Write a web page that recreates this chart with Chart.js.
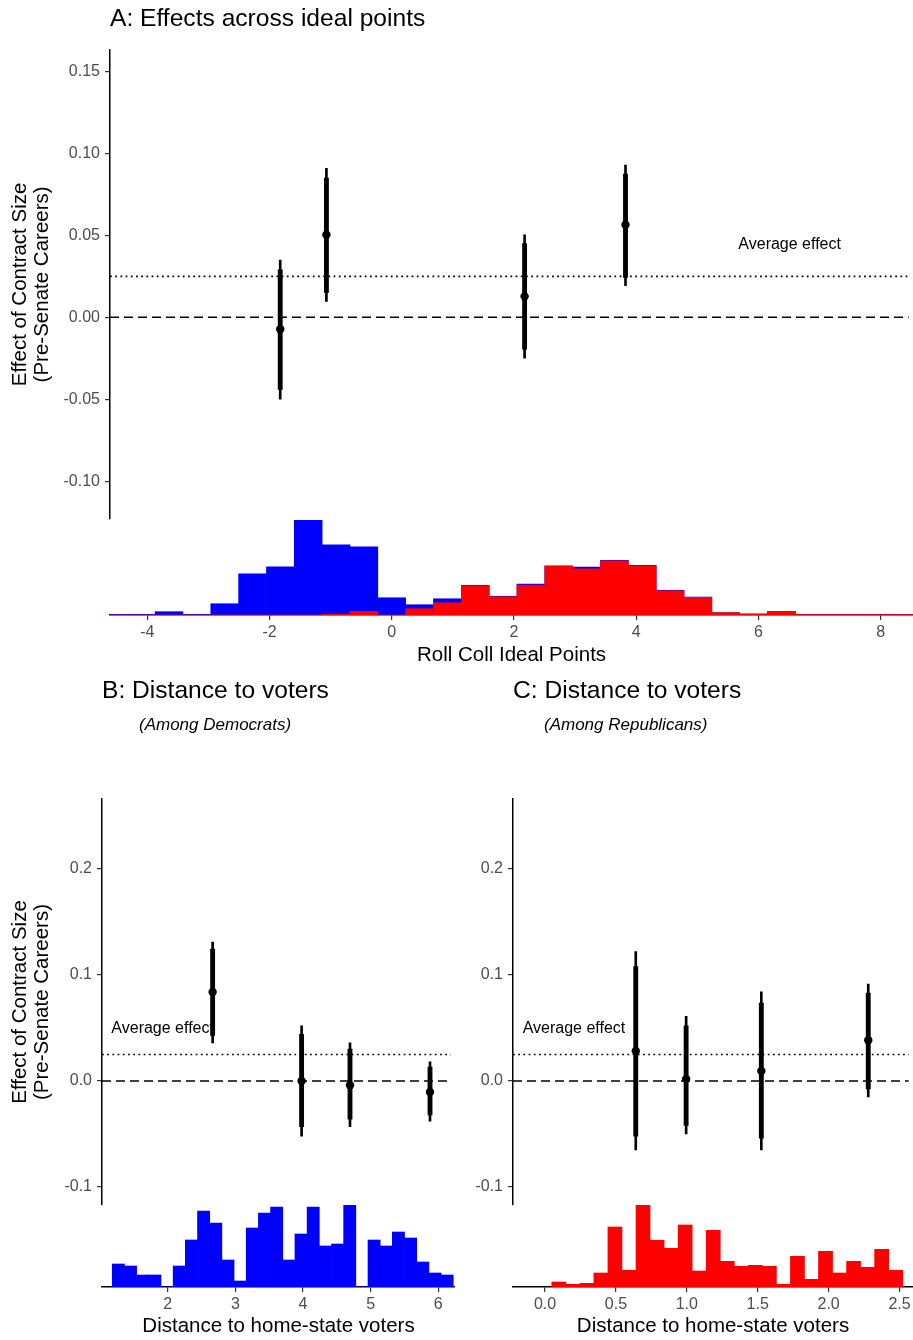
<!DOCTYPE html>
<html>
<head>
<meta charset="utf-8">
<script src="https://cdn.jsdelivr.net/npm/chart.js@4.4.1/dist/chart.umd.min.js"></script>
<style>
  html, body { margin: 0; padding: 0; background: #fff; }
  #page { position: relative; width: 913px; height: 1340px; overflow: hidden; }
  canvas { position: absolute; }
</style>
</head>
<body>
<div id="page">
  <canvas id="aHist" width="913" height="158" style="left:0;top:515px"></canvas>
  <canvas id="aPoints" width="913" height="523" style="left:0;top:0"></canvas>
  <canvas id="bHist" width="455" height="140" style="left:0;top:1200px"></canvas>
  <canvas id="bPoints" width="455" height="550" style="left:0;top:660px"></canvas>
  <canvas id="cHist" width="502" height="140" style="left:411px;top:1200px"></canvas>
  <canvas id="cPoints" width="502" height="550" style="left:411px;top:660px"></canvas>
</div>
<script>
const FONT = "'Liberation Sans', Arial, Helvetica, sans-serif";
const TICK_GREY = '#4d4d4d';
Chart.defaults.font.family = FONT;

// --- DATA ---
const avgEffect = 0.025;

// panel A: estimates across ideal points (95% thin, 90% thick)
const idealX = [-1.81, -1.05, 2.21, 3.87];
const idealEst = [-0.0073, 0.0504, 0.0128, 0.0565];
const idealLo95 = [-0.050, 0.0097, -0.025, 0.0194];
const idealHi95 = [0.035, 0.091, 0.0504, 0.093];
const idealLo90 = [-0.044, 0.0152, -0.0194, 0.0243];
const idealHi90 = [0.029, 0.085, 0.045, 0.0875];
const idealYTicks = [-0.10, -0.05, 0.00, 0.05, 0.10, 0.15];
const idealXTicks = [-4, -2, 0, 2, 4, 6, 8];

// panel A histogram (bin centres, all senators in blue, Republicans in red)
const idealBins = [-4.555, -4.0995, -3.644, -3.1885, -2.733, -2.2775, -1.822, -1.3665, -0.911, -0.4555,
  0, 0.4555, 0.911, 1.3665, 1.822, 2.2775, 2.733, 3.1885, 3.644, 4.0995,
  4.555, 5.0105, 5.466, 5.9215, 6.377, 6.8325, 7.288, 7.7435, 8.199, 8.6545];
const idealAll = [0.6, 0.6, 3.3, 0.6, 11.3, 41.3, 48.3, 95.3, 70.3, 68.3,
  17.3, 10.3, 16.3, 29.8, 18.8, 31, 49.2, 48, 54.8, 49.8,
  24.8, 18, 2.3, 1, 3.7, 0.6, 0.6, 0.6, 0.6, 0.6];
const idealRep = [0, 0, 0, 0, 0, 0, 0, 0, 0.8, 3.7,
  0, 6.3, 12.3, 29.3, 18.3, 30, 48.7, 46.3, 54.3, 49.3,
  24.3, 17.7, 2.3, 1, 3.7, 0.5, 0.5, 0.5, 0.5, 0.5];

// panel B: Democrats
const demX = [2.684, 4.015, 4.739, 5.936];
const demEst = [0.084, 0.0, -0.004, -0.0104];
const demLo95 = [0.036, -0.052, -0.043, -0.038];
const demHi95 = [0.131, 0.052, 0.036, 0.018];
const demLo90 = [0.043, -0.043, -0.036, -0.032];
const demHi90 = [0.1245, 0.044, 0.030, 0.013];
const demXTicks = [2, 3, 4, 5, 6];
const demBins = [1.271, 1.451, 1.631, 1.811, 1.991, 2.171, 2.351, 2.531, 2.711, 2.891,
  3.071, 3.251, 3.431, 3.611, 3.791, 3.971, 4.151, 4.331, 4.511, 4.691,
  4.871, 5.051, 5.231, 5.411, 5.591, 5.771, 5.951, 6.131];
const demCounts = [23, 21, 12, 12, 0, 21, 47, 76, 64, 27,
  6, 59, 74, 80, 27, 53, 80, 41, 43, 82,
  0, 47, 41, 55, 49, 25, 14, 12];

// panel C: Republicans
const repX = [0.649, 1.008, 1.544, 2.306];
const repEst = [0.0283, 0.002, 0.0094, 0.0385];
const repLo95 = [-0.065, -0.050, -0.065, -0.015];
const repHi95 = [0.122, 0.061, 0.084, 0.0915];
const repLo90 = [-0.052, -0.042, -0.054, -0.0075];
const repHi90 = [0.108, 0.052, 0.0735, 0.083];
const repXTicks = [0, 0.5, 1, 1.5, 2, 2.5];
const repBins = [0.097, 0.196, 0.295, 0.394, 0.493, 0.592, 0.691, 0.790, 0.889, 0.988,
  1.087, 1.186, 1.285, 1.384, 1.483, 1.582, 1.681, 1.780, 1.879, 1.978,
  2.077, 2.176, 2.275, 2.374, 2.473];
const repCounts = [5, 2.7, 3.7, 14, 60, 16.7, 81.7, 46.7, 38.7, 62,
  16, 56.7, 25.7, 20.7, 21.7, 20.7, 2.7, 30.7, 7.7, 35.7,
  14, 25.7, 19.7, 37.7, 16.7];

const distYTicks = [-0.1, 0.0, 0.1, 0.2];
const yTitle = ['Effect of Contract Size', '(Pre-Senate Careers)'];

// --- PLUGIN: panel titles and the "Average effect" note ---
const panelText = {
  id: 'panelText',
  afterDraw(chart, args, opts) {
    const ctx = chart.ctx;
    const left = chart.chartArea.left;
    ctx.save();
    ctx.fillStyle = '#000';
    ctx.textBaseline = 'alphabetic';
    ctx.textAlign = 'left';
    if (opts.title) {
      ctx.font = '24.6px ' + FONT;
      ctx.fillText(opts.title, left, opts.titleY);
    }
    if (opts.subtitle) {
      ctx.font = 'italic 17px ' + FONT;
      ctx.fillText(opts.subtitle, left + opts.subIndent, opts.subY);
    }
    if (opts.note) {
      const n = opts.note;
      ctx.font = '16px ' + FONT;
      ctx.textAlign = n.align;
      ctx.textBaseline = 'middle';
      ctx.fillText(n.text, chart.scales.x.getPixelForValue(n.x), chart.scales.y.getPixelForValue(n.y));
    }
    ctx.restore();
  }
};

// --- CHART BUILDERS ---
function pointChart(id, o) {
  const pts = o.x.map((x, i) => ({ x, y: o.est[i] }));
  const thick = o.x.map((x, i) => ({ x, y: [o.lo90[i], o.hi90[i]] }));
  const thin = o.x.map((x, i) => ({ x, y: [o.lo95[i], o.hi95[i]] }));
  return new Chart(document.getElementById(id), {
    type: 'bar',
    data: {
      datasets: [
        { type: 'scatter', data: pts, pointRadius: 4.2, pointHoverRadius: 4.2, backgroundColor: '#000', borderColor: '#000', borderWidth: 0, order: 0 },
        { data: thick, backgroundColor: '#000', barThickness: 4.2, grouped: false, order: 1 },
        { data: thin, backgroundColor: '#000', barThickness: 2, grouped: false, order: 2 },
        { type: 'line', data: [{ x: o.xMin, y: avgEffect }, { x: o.xMax, y: avgEffect }], borderColor: '#000', borderWidth: 1.6, borderDash: [1.8, 3.4], pointRadius: 0, fill: false, order: 3 },
        { type: 'line', data: [{ x: o.xMin, y: 0 }, { x: o.xMax, y: 0 }], borderColor: '#000', borderWidth: 1.6, borderDash: [9, 5], pointRadius: 0, fill: false, order: 4 }
      ]
    },
    options: {
      responsive: false, animation: false, events: [],
      layout: { padding: { top: o.padTop, bottom: o.padBottom, left: 0, right: 0 } },
      plugins: { legend: { display: false }, tooltip: { enabled: false }, panelText: o.text },
      scales: {
        x: { type: 'linear', display: false, offset: false, grid: { offset: false }, min: o.xMin, max: o.xMax },
        y: {
          min: o.yMin, max: o.yMax,
          afterBuildTicks: s => { s.ticks = o.yTicks.map(v => ({ value: v })); },
          afterFit: s => { s.width = o.axisW; s.paddingTop = 0; s.paddingBottom = 0; },
          grid: { drawOnChartArea: false, tickLength: 5, color: '#333', lineWidth: 1.2 },
          border: { display: true, color: '#000', width: 1.5 },
          ticks: { color: TICK_GREY, font: { size: 16 }, padding: 5, autoSkip: false, callback: v => v.toFixed(o.decimals) },
          title: o.yTitle
            ? { display: true, text: o.yTitle, color: '#000', font: { size: 20.5, lineHeight: 1.1 }, padding: { top: 8.7, bottom: 0 } }
            : { display: false }
        }
      }
    },
    plugins: [panelText]
  });
}

function histChart(id, o) {
  return new Chart(document.getElementById(id), {
    type: 'bar',
    data: {
      datasets: o.series.map((s, k) => ({
        data: o.bins.map((c, i) => ({ x: c, y: s.values[i] })),
        backgroundColor: s.color, grouped: false, barPercentage: 1, categoryPercentage: 1,
        borderWidth: 0, order: k
      }))
    },
    options: {
      responsive: false, animation: false, events: [],
      layout: { padding: { left: o.padLeft, top: o.padTop, right: 0, bottom: 0 } },
      plugins: { legend: { display: false }, tooltip: { enabled: false } },
      scales: {
        x: {
          type: 'linear', min: o.xMin, max: o.xMax, offset: false,
          afterBuildTicks: s => { s.ticks = o.ticks.map(v => ({ value: v })); },
          afterFit: s => { s.height = o.axisH; s.paddingLeft = 0; s.paddingRight = 0; },
          grid: { offset: false, drawOnChartArea: false, tickLength: 5, color: '#333', lineWidth: 1.2 },
          border: { display: true, color: '#000', width: 1.5 },
          ticks: { color: TICK_GREY, font: { size: 16 }, padding: 3, autoSkip: false, maxRotation: 0, callback: o.fmt },
          title: { display: true, text: o.title, color: '#000', font: { size: 20.5, lineHeight: 1.1 }, padding: { top: 0, bottom: o.titlePad } }
        },
        y: { display: false, min: 0, max: o.yMax }
      }
    }
  });
}

// --- PANEL A ---
pointChart('aPoints', {
  x: idealX, est: idealEst, lo95: idealLo95, hi95: idealHi95, lo90: idealLo90, hi90: idealHi90,
  xMin: -4.61, xMax: 8.53, yMin: -0.123, yMax: 0.1632, yTicks: idealYTicks, decimals: 2,
  padTop: 50, padBottom: 3, axisW: 110, yTitle: yTitle,
  text: { title: 'A: Effects across ideal points', titleY: 26,
          note: { text: 'Average effect', x: 6.57, y: 0.0447, align: 'center' } }
});
histChart('aHist', {
  bins: idealBins,
  series: [{ values: idealRep, color: '#ff0000' }, { values: idealAll, color: '#0000ff' }],
  xMin: -4.61, xMax: 8.53, yMax: 95.3, ticks: idealXTicks, fmt: v => String(v),
  padLeft: 110, padTop: 5, axisH: 58, title: 'Roll Coll Ideal Points', titlePad: 6.5
});

// --- PANEL B ---
pointChart('bPoints', {
  x: demX, est: demEst, lo95: demLo95, hi95: demHi95, lo90: demLo90, hi90: demHi90,
  xMin: 1.029, xMax: 6.247, yMin: -0.117, yMax: 0.266, yTicks: distYTicks, decimals: 1,
  padTop: 139, padBottom: 5, axisW: 102, yTitle: yTitle,
  text: { title: 'B: Distance to voters', titleY: 38, subtitle: '(Among Democrats)', subIndent: 37, subY: 70,
          note: { text: 'Average effect', x: 1.169, y: 0.0495, align: 'left' } }
});
histChart('bHist', {
  bins: demBins,
  series: [{ values: demCounts, color: '#0000ff' }],
  xMin: 1.029, xMax: 6.247, yMax: 82, ticks: demXTicks, fmt: v => String(v),
  padLeft: 102, padTop: 5, axisH: 53, title: 'Distance to home-state voters', titlePad: 2
});

// --- PANEL C ---
pointChart('cPoints', {
  x: repX, est: repEst, lo95: repLo95, hi95: repHi95, lo90: repLo90, hi90: repHi90,
  xMin: -0.226, xMax: 2.595, yMin: -0.117, yMax: 0.266, yTicks: distYTicks, decimals: 1,
  padTop: 139, padBottom: 5, axisW: 102, yTitle: null,
  text: { title: 'C: Distance to voters', titleY: 38, subtitle: '(Among Republicans)', subIndent: 31, subY: 70,
          note: { text: 'Average effect', x: -0.157, y: 0.0495, align: 'left' } }
});
histChart('cHist', {
  bins: repBins,
  series: [{ values: repCounts, color: '#ff0000' }],
  xMin: -0.226, xMax: 2.595, yMax: 82, ticks: repXTicks, fmt: v => v.toFixed(1),
  padLeft: 102, padTop: 5, axisH: 53, title: 'Distance to home-state voters', titlePad: 2
});
</script>
</body>
</html>
